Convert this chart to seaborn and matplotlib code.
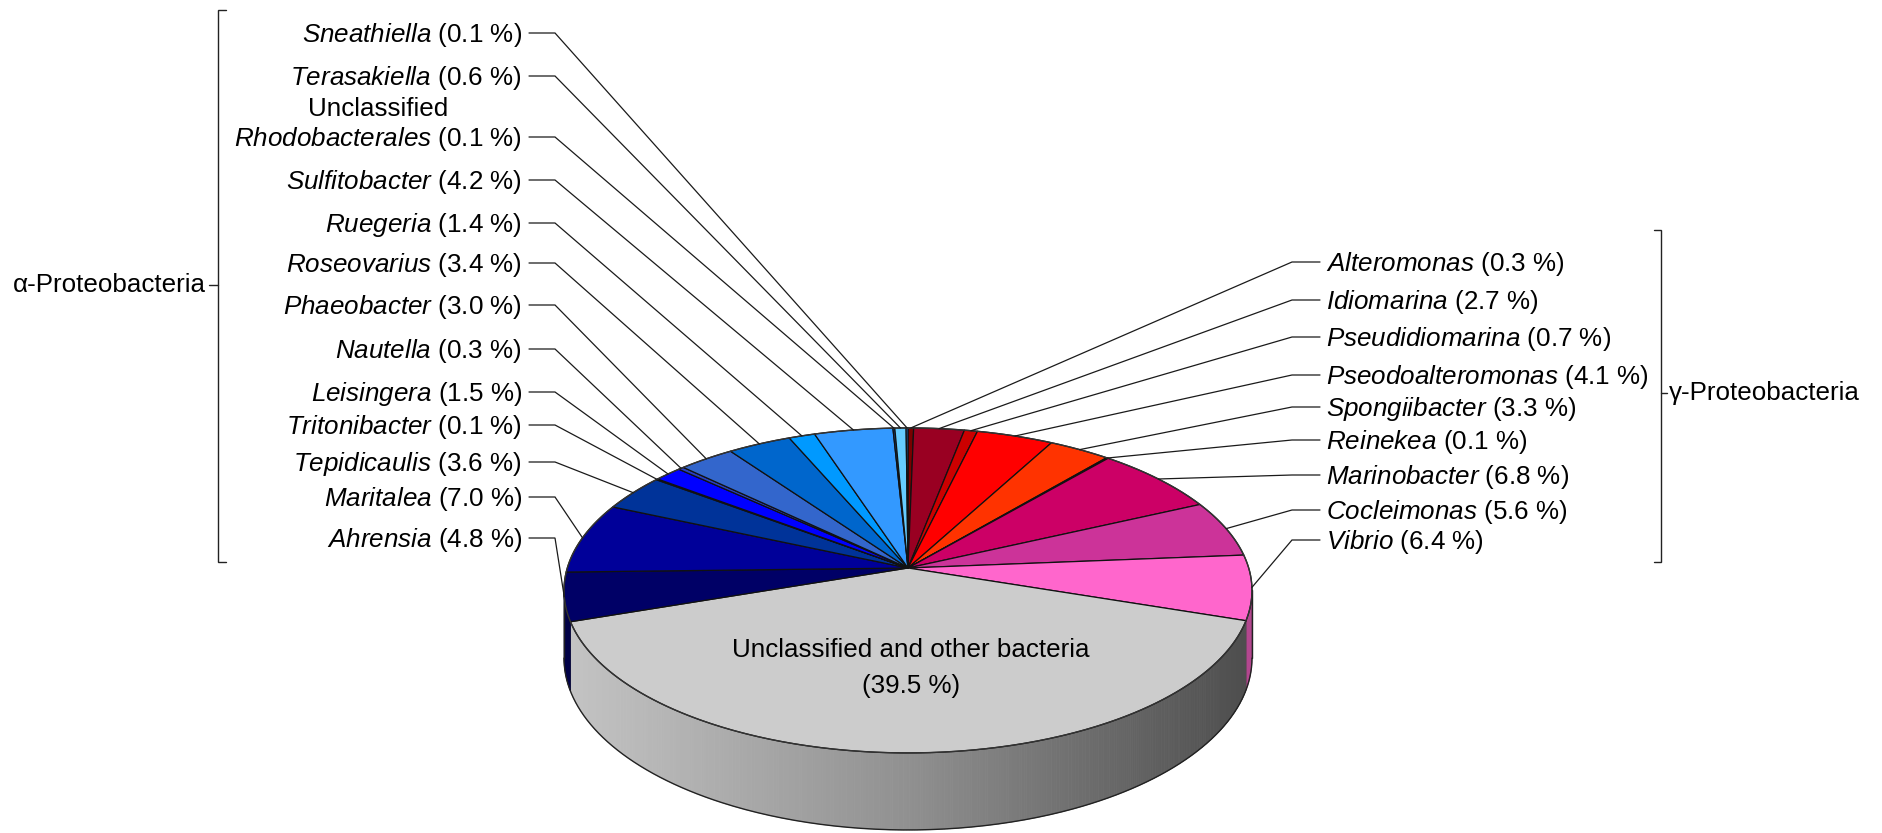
import numpy as np
import matplotlib
matplotlib.use("Agg")
import matplotlib.pyplot as plt
from matplotlib.patches import Polygon
from matplotlib.colors import to_rgb
import seaborn as sns

# ---------------------------------------------------------------- data
alpha_genera = ["Sneathiella", "Terasakiella", "Unclassified Rhodobacterales",
                "Sulfitobacter", "Ruegeria", "Roseovarius", "Phaeobacter",
                "Nautella", "Leisingera", "Tritonibacter", "Tepidicaulis",
                "Maritalea", "Ahrensia"]
alpha_pct = [0.1, 0.6, 0.1, 4.2, 1.4, 3.4, 3.0, 0.3, 1.5, 0.1, 3.6, 7.0, 4.8]
alpha_colors = ["#1F6FD0", "#66CCFF", "#0A4FA0", "#3399FF", "#0099FF",
                "#0066CC", "#3366CC", "#2A3FBF", "#0000FF", "#1A2A99",
                "#003399", "#000099", "#000066"]

gamma_genera = ["Alteromonas", "Idiomarina", "Pseudidiomarina",
                "Pseodoalteromonas", "Spongiibacter", "Reinekea",
                "Marinobacter", "Cocleimonas", "Vibrio"]
gamma_pct = [0.3, 2.7, 0.7, 4.1, 3.3, 0.1, 6.8, 5.6, 6.4]
gamma_colors = ["#7A0000", "#990022", "#CC0000", "#FF0000", "#FF3300",
                "#8B0030", "#CC0066", "#CC3399", "#FF66CC"]

other_label = "Unclassified and other bacteria"
other_pct = 39.5
other_color = "#CCCCCC"

alpha_group = "α-Proteobacteria"
gamma_group = "γ-Proteobacteria"

# ---------------------------------------------------------------- style
sns.set_style("white")
plt.rcParams["font.family"] = ["Liberation Sans", "DejaVu Sans"]
plt.rcParams["text.color"] = "#000000"
plt.rcParams["mathtext.fontset"] = "custom"
plt.rcParams["mathtext.rm"] = "Liberation Sans"
plt.rcParams["mathtext.it"] = "Liberation Sans:italic"
plt.rcParams["mathtext.bf"] = "Liberation Sans:bold"
FS = 18.7

# ---------------------------------------------------------------- layout
W, H = 1883, 833
CX, CY = 908.0, 568.0          # apex of the pie on the page (pixels)
A_Y, B_X = 159.4, 340.7        # vertical / horizontal radius scale
PERSP = 0.138                  # perspective strength (near side larger)
DEPTH = 66.4                   # thickness of the disc

left_label_y = [33, 76, 137, 180, 223, 263, 305, 349, 392, 425, 462, 497, 538]
right_label_y = [262, 300, 337, 375, 407, 440, 475, 510, 540]
LEFT_TEXT_X, LEFT_LINE_X, LEFT_KNEE_X = 522, 529, 555
RIGHT_TEXT_X, RIGHT_LINE_X, RIGHT_KNEE_X = 1326, 1320, 1292


def rim(theta_deg, h=0.0):
    """Project a point on the pie rim (angle clockwise from 12 o'clock)."""
    t = np.radians(theta_deg)
    u, v = np.sin(t), -np.cos(t)
    d = 1.0 - PERSP * v
    return CX + B_X * u / d, CY + (A_Y * v + DEPTH * h) / d


def arc(t0, t1, h=0.0, step=0.5):
    n = max(2, int(abs(t1 - t0) / step) + 2)
    ts = np.linspace(t0, t1, n)
    x, y = rim(ts, h)
    return np.column_stack([x, y])


def darker(c, f):
    r, g, b = to_rgb(c)
    return (r * f, g * f, b * f)


# slices clockwise from the top: gamma group, the remainder, alpha group
names = gamma_genera + [other_label] + alpha_genera[::-1]
values = np.array(gamma_pct + [other_pct] + alpha_pct[::-1], dtype=float)
colors = gamma_colors + [other_color] + alpha_colors[::-1]
ends = np.cumsum(values) / values.sum() * 360.0
starts = np.concatenate([[0.0], ends[:-1]])
mids = (starts + ends) / 2.0

fig = plt.figure(figsize=(W / 100, H / 100), dpi=100)
ax = fig.add_axes([0, 0, 1, 1])
ax.set_xlim(0, W)
ax.set_ylim(H, 0)
ax.set_axis_off()

# ---------------------------------------------------------------- side wall
t_right = np.degrees(np.arccos(-PERSP))
t_left = 360.0 - t_right
grey_ramp = sns.blend_palette(["#C4C4C4", "#909090", "#4C4C4C"], 256)
x_min, x_max = rim(t_left)[0], rim(t_right)[0]

for s, e, col, name in zip(starts, ends, colors, names):
    a, b = max(s, t_right), min(e, t_left)
    if b <= a:
        continue
    if name == other_label:
        edges = np.linspace(a, b, 361)
        for t0, t1 in zip(edges[:-1], edges[1:]):
            xm = rim((t0 + t1) / 2)[0]
            k = int(np.clip((xm - x_min) / (x_max - x_min), 0, 1) * 255)
            poly = np.vstack([arc(t0, t1, 0, 0.2), arc(t1, t0, 1, 0.2)])
            ax.add_patch(Polygon(poly, closed=True, facecolor=grey_ramp[k],
                                 edgecolor=grey_ramp[k], lw=0.6, zorder=1))
    else:
        poly = np.vstack([arc(a, b, 0), arc(b, a, 1)])
        ax.add_patch(Polygon(poly, closed=True, facecolor=darker(col, 0.7),
                             edgecolor=darker(col, 0.5), lw=0.6, zorder=1))

bottom = arc(t_right, t_left, 1)
ax.plot(bottom[:, 0], bottom[:, 1], color="#222222", lw=1.0, zorder=2)
for t in (t_right, t_left):
    x0, y0 = rim(t, 0)
    x1, y1 = rim(t, 1)
    ax.plot([x0, x1], [y0, y1], color="#222222", lw=1.0, zorder=2)

# ---------------------------------------------------------------- top face
for s, e, col in zip(starts, ends, colors):
    poly = np.vstack([[CX, CY], arc(s, e, 0)])
    ax.add_patch(Polygon(poly, closed=True, facecolor=col,
                         edgecolor="#111111", lw=0.9, joinstyle="round",
                         zorder=3))
outline = arc(0, 360, 0)
ax.plot(outline[:, 0], outline[:, 1], color="#333333", lw=1.0, zorder=4)

# ---------------------------------------------------------------- labels


def label_text(name, pct):
    pct_txt = f"({pct:.1f} %)"
    if name.startswith("Unclassified "):
        genus = name.split(" ", 1)[1]
        return "Unclassified\n$\\it{" + genus + "}$ " + pct_txt
    return "$\\it{" + name + "}$ " + pct_txt


line_kw = dict(color="#1a1a1a", lw=0.9, zorder=5, solid_joinstyle="miter")

# right-hand labels (gamma group)
for i, (name, pct) in enumerate(zip(gamma_genera, gamma_pct)):
    y = right_label_y[i]
    ax.text(RIGHT_TEXT_X, y + 9, label_text(name, pct), fontsize=FS,
            ha="left", va="baseline", color="#000000")
    ex, ey = rim(mids[i])
    ax.plot([RIGHT_LINE_X, RIGHT_KNEE_X, ex], [y, y, ey], **line_kw)

# left-hand labels (alpha group); the leader meets the last text line
for j, (name, pct) in enumerate(zip(alpha_genera, alpha_pct)):
    y = left_label_y[j]
    slice_idx = len(values) - 1 - j
    ax.text(LEFT_TEXT_X, y + 9, label_text(name, pct), fontsize=FS,
            ha="right", va="baseline", multialignment="center",
            linespacing=1.2, color="#000000")
    ex, ey = rim(mids[slice_idx])
    ax.plot([LEFT_LINE_X, LEFT_KNEE_X, ex], [y, y, ey], **line_kw)

# label of the remaining share, inside the grey slice
ax.text(CX + 3, CY + 82, other_label, fontsize=FS, ha="center", va="center",
        color="#000000", zorder=6)
ax.text(CX + 3, CY + 118, f"({other_pct:.1f} %)", fontsize=FS, ha="center",
        va="center", color="#000000", zorder=6)

# ---------------------------------------------------------------- brackets
br_kw = dict(color="#222222", lw=1.0, solid_joinstyle="miter")
ax.plot([226, 218, 218, 226], [10, 10, 562, 562], **br_kw)
ax.plot([209, 218], [285, 285], **br_kw)
ax.text(206, 285, alpha_group, fontsize=FS, ha="right", va="center",
        color="#000000")

ax.plot([1654, 1661, 1661, 1654], [230, 230, 562, 562], **br_kw)
ax.plot([1661, 1667], [393, 393], **br_kw)
ax.text(1669, 393, gamma_group, fontsize=FS, ha="left", va="center",
        color="#000000")

fig.savefig("out.png", dpi=100, facecolor="white")
